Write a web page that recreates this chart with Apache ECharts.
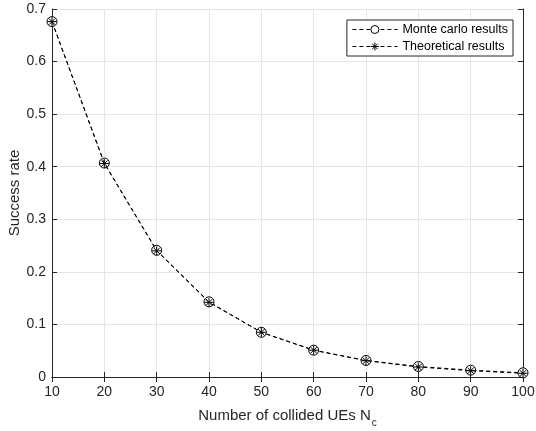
<!DOCTYPE html>
<html>
<head>
<meta charset="utf-8">
<script src="https://cdn.jsdelivr.net/npm/echarts@6/dist/echarts.min.js"></script>
<style>
  html, body { margin: 0; padding: 0; background: #fff; }
  #chart { width: 536px; height: 431px; }
</style>
</head>
<body>
<div id="chart"></div>
<script>
// values
var nc = [10, 20, 30, 40, 50, 60, 70, 80, 90, 100];
var monteCarlo = [0.676, 0.407, 0.241, 0.143, 0.085, 0.051, 0.0315, 0.020, 0.013, 0.008];
var theoretical = [0.676, 0.406, 0.240, 0.142, 0.085, 0.051, 0.031, 0.019, 0.012, 0.007];
var yTicks = [0, 0.1, 0.2, 0.3, 0.4, 0.5, 0.6, 0.7];

var FONT = '"Liberation Sans", Arial, sans-serif';
var AXIS_COLOR = '#262626';
var GRID_COLOR = '#e5e5e5';
var STAR = 'path://M0,5 L10,5 M5,0 L5,10 M1.5,1.5 L8.5,8.5 M8.5,1.5 L1.5,8.5';

function pairs(xs, ys) {
    return xs.map(function(x, i) { return [x, ys[i]]; });
}

var chart = echarts.init(document.getElementById('chart'), null, { renderer: 'canvas' });

var baseX = {
    type: 'value', min: 10, max: 100, interval: 10,
    axisLine: { show: true, lineStyle: { color: AXIS_COLOR, width: 1 } },
    axisTick: { show: true, inside: true, length: 5, lineStyle: { color: AXIS_COLOR } }
};
var baseY = {
    type: 'value', min: 0, max: yTicks[yTicks.length - 1], interval: 0.1,
    axisLine: { show: true, lineStyle: { color: AXIS_COLOR, width: 1 } },
    axisTick: { show: true, inside: true, length: 5, lineStyle: { color: AXIS_COLOR } }
};

chart.setOption({
    animation: false,
    backgroundColor: '#fff',
    textStyle: { fontFamily: FONT },
    grid: { left: 52, right: 13, top: 9, bottom: 54, containLabel: false, outerBoundsMode: 'none' },
    legend: {
        right: 23, top: 20,
        orient: 'vertical',
        itemWidth: 45, itemHeight: 10, itemGap: 4,
        padding: [3, 5, 3, 5],
        borderColor: '#262626', borderWidth: 1, borderRadius: 0,
        backgroundColor: '#fff',
        lineStyle: { width: 1, type: [4, 3], color: '#000' },
        itemStyle: { borderWidth: 1, borderColor: '#000' },
        textStyle: { fontSize: 12.5, color: '#000', fontFamily: FONT },
        data: ['Monte carlo results', 'Theoretical results']
    },
    xAxis: [
        Object.assign({}, baseX, {
            position: 'bottom',
            name: 'Number of collided UEs N{sub|c}',
            nameLocation: 'middle', nameGap: 27, nameMoveOverlap: false,
            nameTextStyle: {
                fontSize: 15, color: '#262626', fontFamily: FONT,
                rich: { sub: { fontSize: 10, verticalAlign: 'bottom', padding: [14, 0, 0, 1], color: '#262626', fontFamily: FONT } }
            },
            axisLabel: { fontSize: 14, color: '#262626', margin: 8, fontFamily: FONT },
            splitLine: { show: true, lineStyle: { color: GRID_COLOR, width: 1 } }
        }),
        Object.assign({}, baseX, {
            position: 'top',
            axisLabel: { show: false },
            splitLine: { show: false }
        })
    ],
    yAxis: [
        Object.assign({}, baseY, {
            position: 'left',
            name: 'Success rate',
            nameLocation: 'middle', nameGap: 30, nameRotate: 90, nameMoveOverlap: false,
            nameTextStyle: { fontSize: 15, color: '#262626', fontFamily: FONT },
            axisLabel: {
                fontSize: 14, color: '#262626', margin: 6, fontFamily: FONT,
                formatter: function(v) { return String(Math.round(v * 10) / 10); }
            },
            splitLine: { show: true, lineStyle: { color: GRID_COLOR, width: 1 } }
        }),
        Object.assign({}, baseY, {
            position: 'right',
            axisLabel: { show: false },
            splitLine: { show: false }
        })
    ],
    series: [
        {
            name: 'Monte carlo results',
            type: 'line',
            data: pairs(nc, monteCarlo),
            symbol: 'circle', symbolSize: 10,
            itemStyle: { color: '#fff', borderColor: '#000', borderWidth: 1 },
            lineStyle: { color: '#000', width: 1, type: [4, 3] },
            z: 3
        },
        {
            name: 'Theoretical results',
            type: 'line',
            data: pairs(nc, theoretical),
            symbol: STAR, symbolSize: 9,
            itemStyle: { color: 'none', borderColor: '#000', borderWidth: 1 },
            lineStyle: { color: '#000', width: 1, type: [4, 3] },
            z: 4
        }
    ]
});

window.addEventListener('resize', function() {
    try { chart.resize(); } catch (e) {}
});
</script>
</body>
</html>
